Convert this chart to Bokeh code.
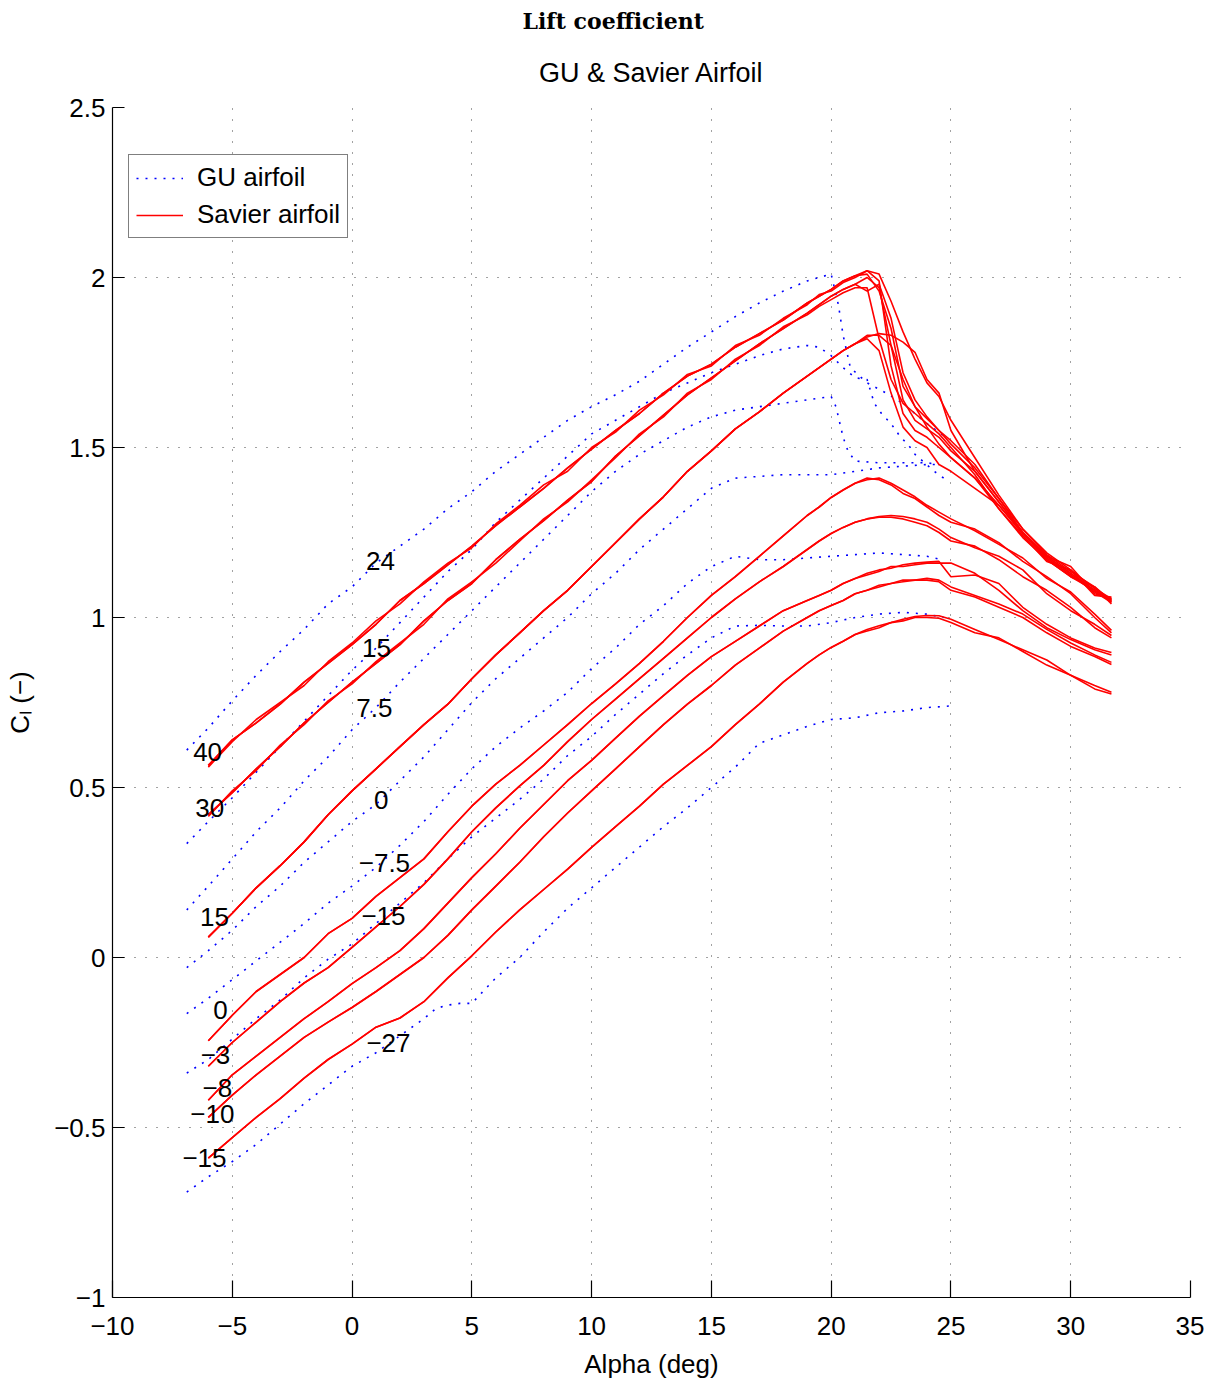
from bokeh.plotting import figure
from bokeh.models import Legend, LegendItem, FixedTicker, Range1d, Title
from bokeh.embed import file_html
from bokeh.resources import INLINE
from bokeh.core.properties import value

# ---------------- data ----------------
X_TICKS = [-10, -5, 0, 5, 10, 15, 20, 25, 30, 35]
Y_TICKS = [-1, -0.5, 0, 0.5, 1, 1.5, 2, 2.5]
X_TICK_LABELS = ["\u221210", "\u22125", "0", "5", "10", "15", "20", "25", "30", "35"]
Y_TICK_LABELS = ["\u22121", "\u22120.5", "0", "0.5", "1", "1.5", "2", "2.5"]

# Savier airfoil: angle grid (rising part, stall/tail part)
SAV_ALPHA_RISE = [-6, -5, -4, -3, -2, -1, 0, 1, 2, 3, 4, 5, 6, 7, 8, 9, 10, 11, 12, 13,
                  14, 15, 16, 17, 18, 19, 19.5, 20, 20.5, 21]
SAV_ALPHA_TAIL = [21.5, 22, 22.5, 23, 23.5, 24, 24.5, 25, 26, 27, 28, 29, 30, 31, 31.7]

SAV40_RISE_A = [0.565, 0.64, 0.69, 0.745, 0.81, 0.865, 0.92, 0.98, 1.05, 1.10, 1.155, 1.21, 1.27, 1.325, 1.38,
                1.44, 1.495, 1.55, 1.60, 1.66, 1.71, 1.745, 1.795, 1.835, 1.875, 1.925, 1.945, 1.965, 1.99, 2.005]
SAV40_RISE_B = [0.56, 0.635, 0.70, 0.75, 0.80, 0.87, 0.925, 0.99, 1.04, 1.105, 1.16, 1.205, 1.275, 1.33, 1.39,
                1.43, 1.50, 1.545, 1.61, 1.655, 1.715, 1.74, 1.80, 1.83, 1.88, 1.92, 1.95, 1.96, 1.985, 2.0]
SAV40_TAIL_A = [2.02, 2.01, 1.93, 1.84, 1.76, 1.69, 1.65, 1.58, 1.47, 1.36, 1.26, 1.185, 1.135, 1.09, 1.05]
SAV40_TAIL_B = [2.02, 1.99, 1.74, 1.60, 1.55, 1.53, 1.50, 1.47, 1.41, 1.33, 1.245, 1.175, 1.125, 1.075, 1.045]
SAV40_TAIL_C = [2.01, 1.96, 1.85, 1.68, 1.62, 1.585, 1.55, 1.51, 1.44, 1.35, 1.25, 1.18, 1.15, 1.07, 1.055]

SAV30_RISE_A = [0.42, 0.485, 0.555, 0.62, 0.69, 0.75, 0.81, 0.865, 0.92, 0.99, 1.05, 1.10, 1.17, 1.23, 1.285,
                1.345, 1.40, 1.475, 1.535, 1.595, 1.655, 1.705, 1.755, 1.805, 1.85, 1.895, 1.92, 1.945, 1.965, 1.98]
SAV30_RISE_B = [0.415, 0.49, 0.55, 0.625, 0.685, 0.755, 0.805, 0.87, 0.925, 0.98, 1.055, 1.105, 1.16, 1.225, 1.29,
                1.34, 1.405, 1.47, 1.54, 1.59, 1.66, 1.70, 1.76, 1.80, 1.855, 1.89, 1.915, 1.935, 1.955, 1.97]
SAV30_TAIL_A = [2.0, 1.97, 1.80, 1.64, 1.58, 1.555, 1.53, 1.49, 1.43, 1.34, 1.25, 1.18, 1.13, 1.08, 1.05]
SAV30_TAIL_B = [1.97, 1.82, 1.70, 1.63, 1.60, 1.57, 1.54, 1.50, 1.42, 1.32, 1.235, 1.17, 1.12, 1.09, 1.04]
SAV30_TAIL_C = [1.96, 1.98, 1.88, 1.72, 1.64, 1.59, 1.55, 1.52, 1.45, 1.35, 1.26, 1.19, 1.14, 1.065, 1.06]

SAV15_RISE = [0.06, 0.13, 0.205, 0.27, 0.34, 0.42, 0.49, 0.555, 0.62, 0.685, 0.745, 0.82, 0.89, 0.955, 1.02,
              1.08, 1.15, 1.22, 1.29, 1.355, 1.43, 1.49, 1.555, 1.605, 1.66, 1.71, 1.735, 1.76, 1.785, 1.805]
SAV15_TAIL_A = [1.825, 1.835, 1.83, 1.81, 1.78, 1.70, 1.66, 1.55, 1.43, 1.34, 1.25, 1.17, 1.12, 1.08, 1.05]
SAV15_TAIL_B = [1.82, 1.785, 1.66, 1.56, 1.52, 1.50, 1.45, 1.43, 1.38, 1.33, 1.25, 1.18, 1.13, 1.08, 1.045]
SAV15_TAIL_C = [1.83, 1.83, 1.80, 1.70, 1.62, 1.56, 1.51, 1.47, 1.41, 1.32, 1.24, 1.165, 1.14, 1.085, 1.055]

SAV0_RISE = [-0.245, -0.17, -0.10, -0.05, 0.0, 0.07, 0.115, 0.18, 0.235, 0.29, 0.37, 0.445, 0.51, 0.565, 0.625,
             0.685, 0.747, 0.805, 0.865, 0.93, 1.00, 1.065, 1.12, 1.18, 1.24, 1.30, 1.325, 1.353, 1.375, 1.395]
SAV0_TAIL_A = [1.405, 1.41, 1.395, 1.375, 1.355, 1.33, 1.31, 1.29, 1.255, 1.215, 1.175, 1.115, 1.075, 1.01, 0.962]
SAV0_TAIL_B = [1.41, 1.405, 1.39, 1.365, 1.35, 1.325, 1.30, 1.28, 1.26, 1.22, 1.165, 1.12, 1.07, 1.0, 0.955]

SAVM3_RISE = [-0.32, -0.25, -0.19, -0.13, -0.075, -0.03, 0.03, 0.09, 0.15, 0.215, 0.29, 0.37, 0.44, 0.505, 0.565,
              0.635, 0.70, 0.76, 0.82, 0.88, 0.94, 1.00, 1.055, 1.105, 1.15, 1.20, 1.225, 1.247, 1.265, 1.28]
SAVM3_TAIL_A = [1.29, 1.297, 1.30, 1.297, 1.29, 1.28, 1.26, 1.235, 1.205, 1.18, 1.14, 1.07, 1.02, 0.98, 0.947]
SAVM3_TAIL_B = [1.29, 1.295, 1.295, 1.29, 1.28, 1.27, 1.25, 1.225, 1.21, 1.17, 1.12, 1.08, 1.03, 0.97, 0.94]

SAVM8_RISE = [-0.42, -0.345, -0.29, -0.235, -0.18, -0.13, -0.077, -0.03, 0.02, 0.085, 0.16, 0.235, 0.305, 0.38, 0.45,
              0.52, 0.58, 0.645, 0.71, 0.77, 0.83, 0.885, 0.93, 0.975, 1.02, 1.05, 1.065, 1.08, 1.10, 1.115]
SAVM8_TAIL_A = [1.13, 1.14, 1.145, 1.155, 1.16, 1.163, 1.165, 1.12, 1.125, 1.10, 1.03, 0.98, 0.94, 0.91, 0.897]
SAVM8_TAIL_B = [1.125, 1.135, 1.15, 1.15, 1.155, 1.16, 1.16, 1.16, 1.13, 1.08, 1.02, 0.97, 0.935, 0.905, 0.89]

SAVM10_RISE = [-0.47, -0.405, -0.345, -0.29, -0.235, -0.19, -0.147, -0.10, -0.05, 0.0, 0.065, 0.14, 0.21, 0.28, 0.355,
               0.425, 0.49, 0.555, 0.62, 0.685, 0.745, 0.80, 0.86, 0.91, 0.96, 1.00, 1.02, 1.035, 1.05, 1.07]
SAVM10_TAIL_A = [1.08, 1.095, 1.10, 1.105, 1.11, 1.115, 1.11, 1.09, 1.065, 1.04, 1.01, 0.965, 0.925, 0.89, 0.868]
SAVM10_TAIL_B = [1.08, 1.09, 1.10, 1.11, 1.11, 1.11, 1.105, 1.08, 1.06, 1.03, 1.0, 0.955, 0.915, 0.885, 0.862]

SAVM15_RISE = [-0.59, -0.53, -0.47, -0.415, -0.355, -0.30, -0.255, -0.205, -0.178, -0.13, -0.06, 0.005, 0.075, 0.14, 0.2,
               0.26, 0.324, 0.385, 0.445, 0.51, 0.565, 0.62, 0.685, 0.745, 0.81, 0.865, 0.89, 0.912, 0.93, 0.95]
SAVM15_TAIL_A = [0.965, 0.976, 0.985, 0.995, 1.003, 1.006, 1.005, 0.995, 0.965, 0.935, 0.905, 0.875, 0.83, 0.80, 0.78]
SAVM15_TAIL_B = [0.96, 0.97, 0.985, 0.99, 1.0, 1.0, 0.998, 0.985, 0.955, 0.94, 0.90, 0.86, 0.83, 0.79, 0.775]

SAVIER_RUNS = [
    (SAV40_RISE_A, SAV40_TAIL_A), (SAV40_RISE_B, SAV40_TAIL_B), (SAV40_RISE_A, SAV40_TAIL_C),
    (SAV30_RISE_A, SAV30_TAIL_A), (SAV30_RISE_B, SAV30_TAIL_B), (SAV30_RISE_A, SAV30_TAIL_C),
    (SAV15_RISE, SAV15_TAIL_A), (SAV15_RISE, SAV15_TAIL_B), (SAV15_RISE, SAV15_TAIL_C),
    (SAV0_RISE, SAV0_TAIL_A), (SAV0_RISE, SAV0_TAIL_B),
    (SAVM3_RISE, SAVM3_TAIL_A), (SAVM3_RISE, SAVM3_TAIL_B),
    (SAVM8_RISE, SAVM8_TAIL_A), (SAVM8_RISE, SAVM8_TAIL_B),
    (SAVM10_RISE, SAVM10_TAIL_A), (SAVM10_RISE, SAVM10_TAIL_B),
    (SAVM15_RISE, SAVM15_TAIL_A), (SAVM15_RISE, SAVM15_TAIL_B),
]

# GU airfoil
GU24_ALPHA = [-6.9, -6, -5, -4, -3, -2, -1, 0, 1, 2, 3, 4, 5, 6, 7, 8, 9, 10, 11, 12, 13, 14, 15, 16, 17, 18, 19, 20,
              20.3, 20.5, 20.8, 21.5, 22.3, 23, 23.5, 24, 24.7]
GU24_CL = [0.61, 0.675, 0.755, 0.83, 0.90, 0.965, 1.04, 1.09, 1.16, 1.21, 1.26, 1.32, 1.37, 1.43, 1.48, 1.53, 1.58,
           1.62, 1.655, 1.695, 1.745, 1.795, 1.84, 1.885, 1.925, 1.96, 1.99, 2.01, 1.92, 1.83, 1.735, 1.69, 1.66,
           1.63, 1.60, 1.57, 1.535]
GU15_ALPHA = [-6.9, -6, -5, -4, -3, -2, -1, 0, 1, 2, 3, 4, 5, 6, 7, 8, 9, 10, 11, 12, 13, 14, 15, 16, 17, 18, 19,
              19.5, 20, 20.5, 21, 21.5, 21.8, 22.1, 22.5, 22.9, 23.2, 23.5, 24.3, 24.7]
GU15_CL = [0.335, 0.40, 0.47, 0.545, 0.62, 0.695, 0.77, 0.845, 0.91, 0.985, 1.06, 1.135, 1.20, 1.28, 1.345, 1.41,
           1.475, 1.54, 1.58, 1.62, 1.66, 1.69, 1.72, 1.745, 1.77, 1.79, 1.80, 1.795, 1.77, 1.735, 1.705, 1.70,
           1.63, 1.60, 1.57, 1.53, 1.51, 1.48, 1.43, 1.41]
GU7_ALPHA = [-6.9, -6, -5, -4, -3, -2, -1, 0, 1, 2, 3, 4, 5, 6, 7, 8, 9, 10, 11, 12, 13, 14, 15, 16, 17, 18, 19, 20,
             20.2, 20.5, 20.7, 21, 22, 23, 24, 24.5]
GU7_CL = [0.14, 0.21, 0.29, 0.37, 0.44, 0.52, 0.59, 0.67, 0.735, 0.81, 0.88, 0.95, 1.02, 1.09, 1.16, 1.23, 1.30,
          1.37, 1.43, 1.48, 1.52, 1.56, 1.59, 1.61, 1.62, 1.63, 1.64, 1.65, 1.62, 1.53, 1.49, 1.46, 1.455, 1.455,
          1.455, 1.45]
GU0_ALPHA = [-6.9, -6, -5, -4, -3, -2, -1, 0, 1, 2, 3, 4, 5, 6, 7, 8, 9, 10, 11, 12, 13, 14, 15, 16, 17, 18, 19, 20,
             21, 22, 23, 24, 24.5]
GU0_CL = [-0.03, 0.02, 0.08, 0.15, 0.21, 0.28, 0.34, 0.40, 0.45, 0.52, 0.59, 0.67, 0.75, 0.82, 0.88, 0.94, 1.00,
          1.07, 1.13, 1.20, 1.26, 1.32, 1.38, 1.41, 1.415, 1.42, 1.42, 1.42, 1.43, 1.44, 1.445, 1.45, 1.45]
GUM7_ALPHA = [-6.9, -6, -5, -4, -3, -2, -1, 0, 1, 2, 3, 4, 5, 6, 7, 8, 9, 10, 11, 12, 13, 14, 15, 16, 17, 18, 19,
              20, 21, 22, 23, 24, 24.6]
GUM7_CL = [-0.165, -0.12, -0.065, -0.01, 0.045, 0.10, 0.16, 0.21, 0.265, 0.33, 0.40, 0.48, 0.555, 0.62, 0.675,
           0.725, 0.78, 0.85, 0.91, 0.98, 1.035, 1.10, 1.15, 1.18, 1.17, 1.17, 1.175, 1.18, 1.185, 1.19, 1.185,
           1.18, 1.17]
GUM15_ALPHA = [-6.9, -6, -5, -4, -3, -2, -1, 0, 1, 2, 3, 4, 5, 6, 7, 8, 9, 10, 11, 12, 13, 14, 15, 16, 17, 18, 19,
               20, 21, 22, 23, 24, 24.7]
GUM15_CL = [-0.34, -0.30, -0.24, -0.18, -0.125, -0.06, -0.005, 0.04, 0.10, 0.16, 0.22, 0.29, 0.355, 0.41, 0.465,
            0.525, 0.594, 0.65, 0.715, 0.775, 0.835, 0.89, 0.94, 0.975, 0.977, 0.975, 0.975, 0.985, 1.0, 1.01,
            1.015, 1.01, 1.0]
GUM27_ALPHA = [-6.9, -6, -5, -4, -3, -2, -1, 0, 1, 2, 3, 3.5, 4, 4.5, 5, 6, 7, 8, 9, 10, 11, 12, 13, 14, 15, 16,
               17, 18, 19, 20, 21, 22, 23, 24, 25]
GUM27_CL = [-0.69, -0.645, -0.60, -0.55, -0.49, -0.43, -0.375, -0.32, -0.28, -0.23, -0.18, -0.15, -0.14, -0.135,
            -0.135, -0.06, 0.0, 0.075, 0.145, 0.205, 0.265, 0.325, 0.385, 0.44, 0.50, 0.56, 0.63, 0.655, 0.68,
            0.70, 0.705, 0.72, 0.725, 0.735, 0.74]

GU_RUNS = [(GU24_ALPHA, GU24_CL), (GU15_ALPHA, GU15_CL), (GU7_ALPHA, GU7_CL), (GU0_ALPHA, GU0_CL),
           (GUM7_ALPHA, GUM7_CL), (GUM15_ALPHA, GUM15_CL), (GUM27_ALPHA, GUM27_CL)]

# curve annotations (flap angles)
GU_LBL_TEXT = ["24", "15", "7.5", "0", "\u22127.5", "\u221215", "\u221227"]
GU_LBL_X = [1.19, 1.02, 0.93, 1.22, 1.35, 1.31, 1.52]
GU_LBL_Y = [1.165, 0.909, 0.735, 0.462, 0.279, 0.121, -0.25]
SAV_LBL_TEXT = ["40", "30", "15", "0", "\u22123", "\u22128", "\u221210", "\u221215"]
SAV_LBL_X = [-6.03, -5.94, -5.74, -5.49, -5.7, -5.62, -5.83, -6.16]
SAV_LBL_Y = [0.603, 0.441, 0.118, -0.153, -0.288, -0.385, -0.459, -0.591]

# ---------------- figure ----------------
SANS = "Liberation Sans"
FS = "26px"

p = figure(width=1204, height=1381, x_range=Range1d(-10, 35), y_range=Range1d(-1, 2.5),
           output_backend="svg", toolbar_location=None,
           min_border_left=112, min_border_right=14, min_border_top=107, min_border_bottom=84)
p.outline_line_color = None
p.background_fill_color = "white"
p.border_fill_color = "white"

# main (outer) title
p.title.text = "Lift coefficient"
p.title.align = "left"
p.title.offset = 410
p.title.standoff = 4
p.title.text_font = "DejaVu Serif"
p.title.text_font_style = "bold"
p.title.text_font_size = "22px"
p.title.text_color = "black"
# subtitle, closest to the plot frame
p.add_layout(Title(text="GU & Savier Airfoil", align="center", standoff=40,
                   text_font=SANS, text_font_style="normal", text_font_size="27px",
                   text_color="black"), "above")

for ax, ticks, labels, tick_in in ((p.xaxis[0], X_TICKS, X_TICK_LABELS, 17), (p.yaxis[0], Y_TICKS, Y_TICK_LABELS, 12)):
    ax.ticker = FixedTicker(ticks=ticks)
    ax.major_label_overrides = {t: l for t, l in zip(ticks, labels)}
    ax.major_tick_in = tick_in
    ax.major_tick_out = 0
    ax.minor_tick_line_color = None
    ax.axis_line_color = "black"
    ax.axis_line_width = 1.2
    ax.major_tick_line_color = "black"
    ax.major_tick_line_width = 1.2
    ax.major_label_text_font = SANS
    ax.major_label_text_font_size = FS
    ax.major_label_text_color = "black"
    ax.axis_label_text_font = SANS
    ax.axis_label_text_font_size = FS
    ax.axis_label_text_font_style = "normal"
    ax.axis_label_text_color = "black"
p.xaxis.major_label_standoff = 19
p.yaxis.major_label_standoff = 7
p.xaxis.axis_label = "Alpha (deg)"
p.xaxis.axis_label_standoff = 11
p.yaxis.axis_label = "C\u2097 (\u2212)"
p.yaxis.axis_label_standoff = 16

for g, ticks in ((p.xgrid[0], X_TICKS), (p.ygrid[0], Y_TICKS)):
    g.ticker = FixedTicker(ticks=ticks)
    g.grid_line_color = "#444444"
    g.grid_line_dash = "1 10"
    g.grid_line_width = 1

gu_renderers = []
for a, c in GU_RUNS:
    r = p.line(a, c, line_color="#0000ff", line_width=1.6, line_dash="2 7")
    gu_renderers.append(r)

sav_renderers = []
for rise, tail in SAVIER_RUNS:
    r = p.line(SAV_ALPHA_RISE + SAV_ALPHA_TAIL, rise + tail, line_color="#ff0000", line_width=1.6)
    sav_renderers.append(r)

p.text(x=GU_LBL_X + SAV_LBL_X, y=GU_LBL_Y + SAV_LBL_Y, text=GU_LBL_TEXT + SAV_LBL_TEXT,
       text_font=value(SANS), text_font_size=value(FS), text_align="center",
       text_baseline="middle", text_color="black")

legend = Legend(items=[LegendItem(label="GU airfoil", renderers=[gu_renderers[0]]),
                       LegendItem(label="Savier airfoil", renderers=[sav_renderers[0]])],
                location=(16, 1059), padding=7, spacing=6, margin=0,
                glyph_width=47, glyph_height=30, label_height=30, label_standoff=14,
                label_text_font=SANS, label_text_font_size=FS, label_text_color="black",
                border_line_color="black", border_line_width=1.2,
                background_fill_color="white", background_fill_alpha=1.0)
p.add_layout(legend, "center")

open("out.html", "w").write(file_html(p, INLINE))
